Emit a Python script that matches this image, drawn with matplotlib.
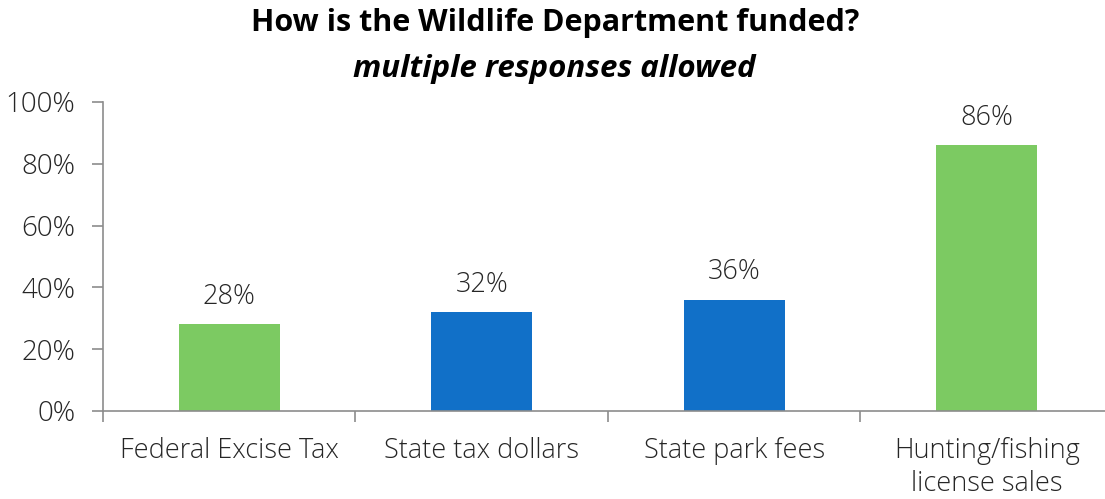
import numpy as np
import matplotlib.pyplot as plt

categories = ["Federal Excise Tax", "State tax dollars", "State park fees", "Hunting/fishing\nlicense sales"]
values = [28, 32, 36, 86]
colors = ["#7cca62", "#1170c8", "#1170c8", "#7cca62"]
yticks = [0, 20, 40, 60, 80, 100]

plt.rcParams['font.family'] = ['Open Sans', 'DejaVu Sans']

fig = plt.figure(figsize=(11.05, 4.99), dpi=100)
ax = fig.add_axes([0.0932, 0.1764, 0.914, 0.6192])

x = np.arange(len(categories))
ax.bar(x, values, width=0.4, color=colors)

for xi, v in zip(x, values):
    ax.text(xi, v + 4.3, f"{v}%", ha='center', va='bottom', fontsize=19.5, color='#262626', fontweight='light')

ax.set_ylim(0, 100)
ax.set_xlim(-0.5, 3.5)
ax.set_yticks(yticks)
ax.set_yticklabels([f"{t}%" for t in yticks], fontsize=20, color='#262626', fontweight='light')

ax.set_xticks(x)
ax.set_xticklabels(categories, fontsize=19.5, color='#262626', fontweight='light', linespacing=1.22)
ax.tick_params(axis='x', length=0, pad=19)
ax.set_xticks(np.arange(-0.5, 3.6, 1), minor=True)
ax.tick_params(axis='x', which='minor', length=8, color='#8c8c8c', width=1.2)
ax.tick_params(axis='y', length=8, color='#8c8c8c', width=1.2, pad=12)

for s in ['top', 'right']:
    ax.spines[s].set_visible(False)
for s in ['left', 'bottom']:
    ax.spines[s].set_color('#8c8c8c')
    ax.spines[s].set_linewidth(1.2)

fig.text(0.502, 0.953, "How is the Wildlife Department funded?", ha='center', va='center',
         fontsize=22, fontweight='bold', color='black')
fig.text(0.502, 0.862, "multiple responses allowed", ha='center', va='center',
         fontsize=22.5, fontweight='bold', fontstyle='italic', color='black')

fig.savefig("out.png", dpi=100)
